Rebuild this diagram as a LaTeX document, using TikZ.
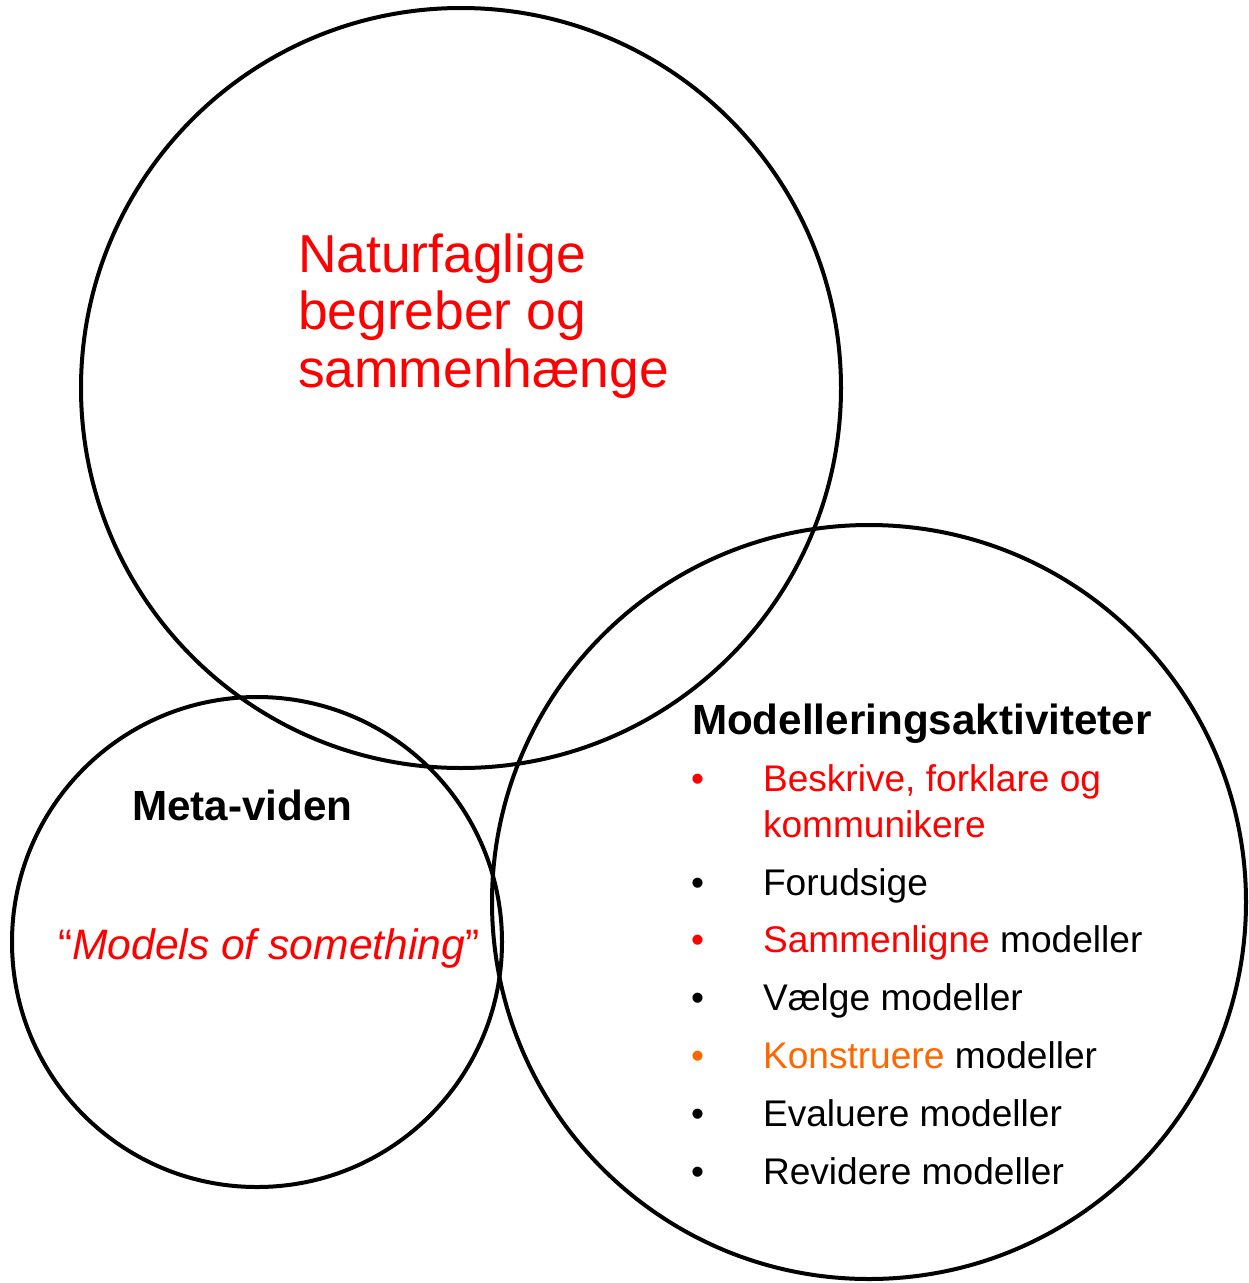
\documentclass[tikz,border=0pt]{standalone}
\usepackage{fontspec}
\setmainfont{Liberation Sans}
\definecolor{myred}{RGB}{255,0,0}
\definecolor{myorange}{RGB}{255,102,0}
\begin{document}
\begin{tikzpicture}[x=1pt,y=-1pt,
  ring/.style={draw=black,line width=4pt},
  txt/.style={anchor=base west,inner sep=0pt,outer sep=0pt},
  big/.style={txt,font=\fontsize{53.4}{57}\selectfont,text=myred},
  head/.style={txt,font=\fontsize{42.2}{46}\selectfont\bfseries},
  item/.style={txt,font=\fontsize{37.1}{41}\selectfont},
  bul/.style={txt,font=\fontsize{37.1}{41}\selectfont}]
\useasboundingbox (0,0) rectangle (1249,1283);
% circles
\node[ring,circle,minimum size=760pt,inner sep=0pt] (top) at (461,388) {};
\node[ring,circle,minimum size=490pt,inner sep=0pt] (meta) at (257,942) {};
\node[ring,circle,minimum size=754pt,inner sep=0pt] (model) at (869,902) {};
% top circle text
\node[big] (n1) at (298,272) {Naturfaglige};
\node[big] (n2) at (298,329.5) {begreber og};
\node[big] (n3) at (298,387) {sammenhænge};
% meta circle text
\node[head] (mv) at (132,820) {Meta-viden};
\node[txt,font=\fontsize{42.6}{46}\selectfont,text=myred] (mos) at (58,959) {“\textit{Models of something}”};
% model circle text
\node[head] (ma) at (692,734) {Modelleringsaktiviteter};
\node[bul,text=myred] (b1) at (691,791.5) {•};
\node[item,text=myred] (t1) at (763,791.5) {Beskrive, forklare og};
\node[item,text=myred] (t1b) at (763,837.5) {kommunikere};
\node[bul] (b2) at (691,895) {•};
\node[item] (t2) at (763,895) {Forudsige};
\node[bul,text=myred] (b3) at (691,952.5) {•};
\node[item] (t3) at (763,952.5) {\textcolor{myred}{Sammenligne} modeller};
\node[bul] (b4) at (691,1010) {•};
\node[item] (t4) at (763,1010) {Vælge modeller};
\node[bul,text=myorange] (b5) at (691,1068.5) {•};
\node[item] (t5) at (763,1068.5) {\textcolor{myorange}{Konstruere} modeller};
\node[bul] (b6) at (691,1126.5) {•};
\node[item] (t6) at (763,1126.5) {Evaluere modeller};
\node[bul] (b7) at (691,1184) {•};
\node[item] (t7) at (763,1184) {Revidere modeller};
\end{tikzpicture}
\end{document}
